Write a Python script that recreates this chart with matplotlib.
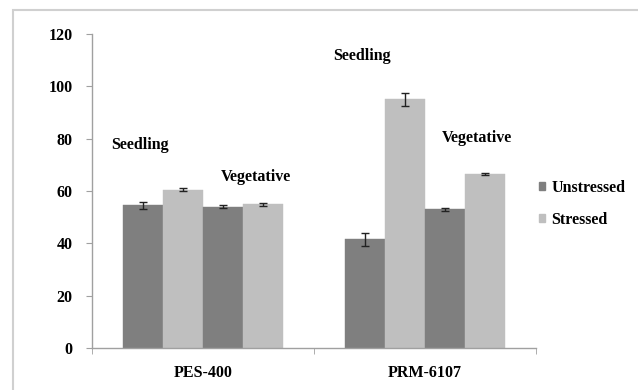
import matplotlib
matplotlib.use("Agg")
import matplotlib.pyplot as plt
from matplotlib.patches import Rectangle
import numpy as np

cultivars = ["PES-400", "PRM-6107"]
series = ["Unstressed", "Stressed"]
stages = ["Seedling", "Vegetative"]
# values per cultivar: [seedling, vegetative]
unstressed = [[54.5, 54.0], [41.5, 53.0]]
unstressed_err = [[1.2, 0.5], [2.5, 0.5]]
stressed = [[60.5, 55.0], [95.0, 66.5]]
stressed_err = [[0.5, 0.6], [2.5, 0.4]]
yticks = [0, 20, 40, 60, 80, 100, 120]

dark = "#7f7f7f"
light = "#bfbfbf"
fs = 11.5

plt.rcParams['font.family'] = ['Liberation Serif', 'DejaVu Serif']
fig = plt.figure(figsize=(6.38, 3.90), dpi=100)
fig.patches.append(Rectangle((13/638, -0.1), 1.2, (390-10)/390 + 0.1, transform=fig.transFigure,
                             fill=False, edgecolor="#d0d0d0", linewidth=1.5))
ax = fig.add_axes([92/638, 42/390, 444/638, 314/390])

w = 0.18
x = np.arange(len(cultivars))
offsets = [-1.5, -0.5, 0.5, 1.5]
for i in range(len(cultivars)):
    vals = [unstressed[i][0], stressed[i][0], unstressed[i][1], stressed[i][1]]
    errs = [unstressed_err[i][0], stressed_err[i][0], unstressed_err[i][1], stressed_err[i][1]]
    cols = [dark, light, dark, light]
    for o, v, e, c in zip(offsets, vals, errs, cols):
        ax.bar(x[i] + o * w, v, width=w, color=c, edgecolor=c, linewidth=0.3)
        ax.errorbar(x[i] + o * w, v, yerr=e, fmt='none', ecolor='#222222', elinewidth=1.0, capsize=3, capthick=1.0)

ax.set_xlim(-0.5, 1.5)
ax.set_ylim(0, 120)
ax.set_yticks(yticks)
ax.set_yticklabels([str(t) for t in yticks], fontweight='bold', fontsize=fs)
ax.set_xticks(x)
ax.set_xticklabels(cultivars, fontweight='bold', fontsize=fs)
ax.set_xticks([-0.5, 0.5, 1.5], minor=True)
ax.tick_params(axis='x', which='major', length=0, pad=12)
ax.tick_params(axis='x', which='minor', length=4, color='#a0a0a0', direction='out')
ax.tick_params(axis='y', length=4, color='#a0a0a0', pad=10)
for s in ['top', 'right']:
    ax.spines[s].set_visible(False)
for s in ['left', 'bottom']:
    ax.spines[s].set_color('#a0a0a0')
    ax.spines[s].set_linewidth(1.0)

# stage labels
lbl = dict(fontweight='bold', fontsize=fs, ha='center', va='center')
ax.text(-0.284, 77.6, stages[0], **lbl)
ax.text(0.239, 65.3, stages[1], **lbl)
ax.text(0.716, 111.6, stages[0], **lbl)
ax.text(1.234, 80.2, stages[1], **lbl)

handles = [Rectangle((0, 0), 1, 1, color=dark), Rectangle((0, 0), 1, 1, color=light)]
ax.legend(handles, series, loc='center left', bbox_to_anchor=(0.975, 0.46), frameon=False,
          prop={'weight': 'bold', 'size': fs}, handlelength=0.35, handleheight=0.35,
          handletextpad=0.4, labelspacing=1.0)

fig.savefig("out.png", dpi=100)
